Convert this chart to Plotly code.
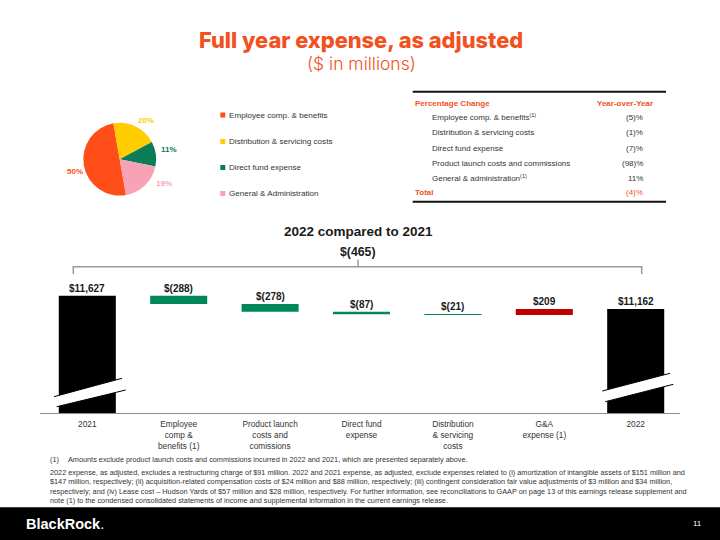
import plotly.graph_objects as go

W, H = 720, 540


def X(px):
    return px / W


def Y(py):
    return 1 - py / H


# ---------------- data ----------------
pie_labels = ["Employee comp. & benefits", "Distribution & servicing costs",
              "Direct fund expense", "General & Administration"]
pie_values = [50, 20, 11, 19]
pie_colors = ["#FF4E17", "#FFCD00", "#0A7C57", "#F8A3B5"]

table_items = ["Employee comp. & benefits<sup>(1)</sup>", "Distribution & servicing costs",
               "Direct fund expense", "Product launch costs and commissions",
               "General & administration<sup>(1)</sup>"]
table_changes = ["(5)%", "(1)%", "(7)%", "(98)%", "11%"]
table_total = "(4)%"

wf_categories = ["2021", "Employee<br>comp &<br>benefits (1)", "Product launch<br>costs and<br>comissions",
                 "Direct fund<br>expense", "Distribution<br>& servicing<br>costs", "G&A<br>expense (1)", "2022"]
wf_values = [11627, -288, -278, -87, -21, 209, 11162]
wf_measures = ["absolute", "relative", "relative", "relative", "relative", "relative", "total"]
wf_labels = ["$11,627", "$(288)", "$(278)", "$(87)", "$(21)", "$209", "$11,162"]
total_change_label = "$(465)"

ORANGE = "#F2501E"
GREEN = "#00875A"
RED = "#C00000"
FONT = "Liberation Sans, Arial, sans-serif"
TFONT = "Inter, Liberation Sans, Arial, sans-serif"

fig = go.Figure()

# ---------------- pie ----------------
pcx, pcy, pr = 119.7, 159.2, 36.4
fig.add_trace(go.Pie(
    labels=pie_labels, values=pie_values, sort=False, direction="clockwise", rotation=170,
    marker=dict(colors=pie_colors, line=dict(width=0)), textinfo="none", hoverinfo="label+percent",
    domain=dict(x=[X(pcx - pr), X(pcx + pr)], y=[Y(pcy + pr), Y(pcy - pr)]), showlegend=False,
))

annotations = []
shapes = []

pie_label_pos = [(75.3, 171), (146, 120), (168.7, 149), (164.3, 183.3)]
for v, c, (lx, ly) in zip(pie_values, pie_colors, pie_label_pos):
    annotations.append(dict(x=X(lx), y=Y(ly), xref="paper", yref="paper", text=f"<b>{v}%</b>",
                            showarrow=False, font=dict(size=8, color=c, family=FONT),
                            xanchor="center", yanchor="middle"))

# manual legend
leg_y = [115, 141.5, 167.5, 193.5]
for lab, c, ly in zip(pie_labels, pie_colors, leg_y):
    shapes.append(dict(type="rect", xref="paper", yref="paper", x0=X(220.3), x1=X(225.3),
                       y0=Y(ly + 2.5), y1=Y(ly - 2.5), fillcolor=c, line=dict(width=0)))
    annotations.append(dict(x=X(226.5), y=Y(ly), xref="paper", yref="paper", text=lab, showarrow=False,
                            font=dict(size=8.1, color="#333333", family=FONT), xanchor="left", yanchor="middle"))

# ---------------- titles ----------------
annotations.append(dict(x=X(360.5), y=Y(39.5), xref="paper", yref="paper", text="Full year expense, as adjusted",
                        showarrow=False, font=dict(size=21.8, color=ORANGE, family=TFONT, weight=800),
                        xanchor="center", yanchor="middle"))
annotations.append(dict(x=X(361), y=Y(63), xref="paper", yref="paper", text="($ in millions)",
                        showarrow=False, font=dict(size=17.5, color=ORANGE, family=TFONT, weight=300),
                        xanchor="center", yanchor="middle"))

# ---------------- table ----------------
for ly in (91.7, 201.7):
    shapes.append(dict(type="line", xref="paper", yref="paper", x0=X(412.7), x1=X(666), y0=Y(ly), y1=Y(ly),
                       line=dict(color="#111111", width=2)))
annotations.append(dict(x=X(412.7), y=Y(103), xref="paper", yref="paper", text="<b>Percentage Change</b>",
                        showarrow=False, font=dict(size=8, color=ORANGE, family=FONT), xanchor="left", yanchor="middle"))
annotations.append(dict(x=X(655), y=Y(103), xref="paper", yref="paper", text="<b>Year-over-Year</b>",
                        showarrow=False, font=dict(size=8, color=ORANGE, family=FONT), xanchor="right", yanchor="middle"))
row_y = [117.5, 133, 148.5, 163.5, 178.5]
for item, chg, ly in zip(table_items, table_changes, row_y):
    annotations.append(dict(x=X(430), y=Y(ly), xref="paper", yref="paper", text=item, showarrow=False,
                            font=dict(size=8, color="#333333", family=FONT), xanchor="left", yanchor="middle"))
    annotations.append(dict(x=X(644.5), y=Y(ly), xref="paper", yref="paper", text=chg, showarrow=False,
                            font=dict(size=8, color="#333333", family=FONT), xanchor="right", yanchor="middle"))
annotations.append(dict(x=X(412.7), y=Y(192.5), xref="paper", yref="paper", text="<b>Total</b>", showarrow=False,
                        font=dict(size=8, color=ORANGE, family=FONT), xanchor="left", yanchor="middle"))
annotations.append(dict(x=X(644.5), y=Y(192.5), xref="paper", yref="paper", text=table_total, showarrow=False,
                        font=dict(size=8, color=ORANGE, family=FONT), xanchor="right", yanchor="middle"))

# ---------------- waterfall ----------------
xs = list(range(len(wf_values)))
fig.add_trace(go.Waterfall(
    x=xs, y=wf_values, measure=wf_measures, width=0.624,
    decreasing=dict(marker=dict(color=GREEN)),
    increasing=dict(marker=dict(color=RED)),
    totals=dict(marker=dict(color="#000000")),
    connector=dict(visible=False), textinfo="none", showlegend=False,
    xaxis="x", yaxis="y",
))

# label positions at the top of each bar
run = 0
tops = []
for v, m in zip(wf_values, wf_measures):
    if m == "absolute":
        run = v
        tops.append(v)
    elif m == "relative":
        tops.append(max(run, run + v))
        run += v
    else:
        tops.append(v)
for xi, t, lab in zip(xs, tops, wf_labels):
    annotations.append(dict(x=xi, y=t, xref="x", yref="y", text=f"<b>{lab}</b>", showarrow=False,
                            font=dict(size=10, color="#1a1a1a", family=FONT), xanchor="center",
                            yanchor="middle", yshift=7.5))

annotations.append(dict(x=X(358), y=Y(232), xref="paper", yref="paper", text="<b>2022 compared to 2021</b>",
                        showarrow=False, font=dict(size=13.5, color="#1a1a1a", family=FONT),
                        xanchor="center", yanchor="middle"))
annotations.append(dict(x=X(358), y=Y(251.5), xref="paper", yref="paper", text=f"<b>{total_change_label}</b>",
                        showarrow=False, font=dict(size=12.3, color="#1a1a1a", family=FONT),
                        xanchor="center", yanchor="middle"))

# bracket
shapes.append(dict(type="path", xref="paper", yref="paper",
                   path=f"M {X(73.3)},{Y(274)} L {X(73.3)},{Y(266.7)} L {X(641.7)},{Y(266.7)} L {X(641.7)},{Y(274)}",
                   line=dict(color="#9a9a9a", width=1.5)))
shapes.append(dict(type="line", xref="paper", yref="paper", x0=X(358), x1=X(358), y0=Y(266.7), y1=Y(259.5),
                   line=dict(color="#9a9a9a", width=1.5)))

# axis break marks
for (ul, ur, lr, ll) in [((54, 396.7), (122, 378.3), (125.7, 390), (56.7, 406.7)),
                         ((602.3, 391), (670, 373.3), (673.3, 384.3), (605.3, 401.7))]:
    path = (f"M {X(ul[0])},{Y(ul[1])} L {X(ur[0])},{Y(ur[1])} L {X(lr[0])},{Y(lr[1])} "
            f"L {X(ll[0])},{Y(ll[1])} Z")
    shapes.append(dict(type="path", xref="paper", yref="paper", path=path, fillcolor="white",
                       line=dict(width=0), layer="above"))
    for a, b in ((ul, ur), (ll, lr)):
        shapes.append(dict(type="line", xref="paper", yref="paper", x0=X(a[0]), y0=Y(a[1]), x1=X(b[0]),
                           y1=Y(b[1]), line=dict(color="#000000", width=1), layer="above"))

# ---------------- footnotes ----------------
FN = 7.3
annotations.append(dict(x=X(48), y=Y(459), xref="paper", yref="paper", text="(1)", showarrow=False,
                        font=dict(size=FN, color="#333333", family=FONT), xanchor="left", yanchor="middle"))
annotations.append(dict(x=X(65.7), y=Y(459), xref="paper", yref="paper",
                        text="Amounts exclude product launch costs and commissions incurred in 2022 and 2021, which are presented separately above.",
                        showarrow=False, font=dict(size=FN, color="#333333", family=FONT), xanchor="left", yanchor="middle"))
para = [
    "2022 expense, as adjusted, excludes a restructuring charge of $91 million. 2022 and 2021 expense, as adjusted, exclude expenses related to (i) amortization of intangible assets of $151 million and",
    "$147 million, respectively; (ii) acquisition-related compensation costs of $24 million and $88 million, respectively; (iii) contingent consideration fair value adjustments of $3 million and $34 million,",
    "respectively; and (iv) Lease cost \u2013 Hudson Yards of $57 million and $28 million, respectively. For further information, see reconciliations to GAAP on page 13 of this earnings release supplement and",
    "note (1) to the condensed consolidated statements of income and supplemental information in the current earnings release.",
]
annotations.append(dict(x=X(48), y=Y(466.3), xref="paper", yref="paper", text="<br>".join(para), showarrow=False,
                        align="left", font=dict(size=FN, color="#333333", family=FONT),
                        xanchor="left", yanchor="top"))

# ---------------- footer ----------------
shapes.append(dict(type="rect", xref="paper", yref="paper", x0=0, x1=1, y0=0, y1=Y(507.3),
                   fillcolor="#000000", line=dict(width=0), layer="above"))
annotations.append(dict(x=X(23.5), y=Y(523.5), xref="paper", yref="paper", text="<b>BlackRock</b>.", showarrow=False,
                        font=dict(size=14.5, color="#ffffff", family=FONT), xanchor="left", yanchor="middle"))
annotations.append(dict(x=X(704), y=Y(523.5), xref="paper", yref="paper", text="11", showarrow=False,
                        font=dict(size=8, color="#ffffff", family=FONT), xanchor="right", yanchor="middle"))

x_left, x_right, x0c, step = 40, 680, 87.3, 91.4
y_bottom_px, y_top_px, y_bottom_val, per_px = 413.3, 280, 7511, 35.0

fig.update_layout(
    width=W, height=H, margin=dict(l=0, r=0, t=0, b=0),
    paper_bgcolor="white", plot_bgcolor="white",
    font=dict(family=FONT, color="#333333"),
    xaxis=dict(domain=[X(x_left), X(x_right)], range=[(x_left - x0c) / step, (x_right - x0c) / step],
               tickvals=xs, ticktext=wf_categories, showgrid=False, zeroline=False,
               showline=True, linecolor="#8c8c8c", linewidth=1.3, ticks="", ticklabelstandoff=3,
               tickfont=dict(size=8.3, color="#333333", family=FONT), fixedrange=True),
    yaxis=dict(domain=[Y(y_bottom_px), Y(y_top_px)],
               range=[y_bottom_val, y_bottom_val + (y_bottom_px - y_top_px) * per_px],
               visible=False, fixedrange=True),
    annotations=annotations, shapes=shapes, showlegend=False,
)

fig.write_html("out.html", config={"displayModeBar": False},
               post_script="document.body.style.margin='0px';")
